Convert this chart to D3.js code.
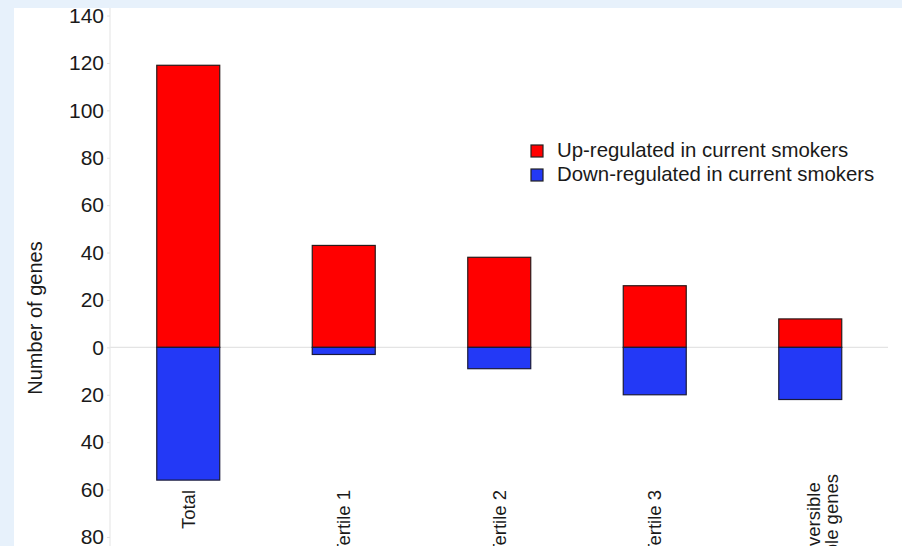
<!DOCTYPE html>
<html>
<head>
<meta charset="utf-8">
<script src="https://cdn.jsdelivr.net/npm/d3@7"></script>
<style>
  body { margin: 0; background: #fff; }
  text { font-family: "Liberation Sans", Arial, Helvetica, sans-serif; fill: #1a1a1a; }
</style>
</head>
<body>
<div id="chart"></div>
<script>
var width = 902, height = 546;

// values
var categories = ["Total", "Tertile 1", "Tertile 2", "Tertile 3", "Irreversible"];
var categoryLines = [["Total"], ["Tertile 1"], ["Tertile 2"], ["Tertile 3"], ["Irreversible", "Stable genes"]];
var upValues = [119, 43, 38, 26, 12];
var downValues = [56, 3, 9, 20, 22];
var tickValues = [-80, -60, -40, -20, 0, 20, 40, 60, 80, 100, 120, 140];
var legendLabels = ["Up-regulated in current smokers", "Down-regulated in current smokers"];
var colors = ["#ff0000", "#2339f6"];

var svg = d3.select("#chart").append("svg")
    .attr("width", width)
    .attr("height", height);

svg.append("rect").attr("width", width).attr("height", height).style("fill", "#fff");

var x = d3.scaleBand()
    .domain(categories)
    .range([110.5, 888])
    .paddingInner(0.595)
    .paddingOuter(0.2975);

var y = d3.scaleLinear()
    .domain([-80, 140])
    .range([537, 15.5]);

// zero line
svg.append("line")
    .attr("x1", 110).attr("x2", 888)
    .attr("y1", y(0)).attr("y2", y(0))
    .style("stroke", "#e4e4e4").style("stroke-width", 1.2);

// y axis
svg.append("line")
    .attr("x1", 110).attr("x2", 110)
    .attr("y1", 8).attr("y2", height)
    .style("stroke", "#e8e8e8").style("stroke-width", 1.2);

var yAxis = svg.append("g")
    .attr("transform", "translate(110,0)")
    .call(d3.axisLeft(y).tickValues(tickValues).tickSize(3).tickPadding(3)
      .tickFormat(function(d) { return Math.abs(d); }));
yAxis.select(".domain").remove();
yAxis.selectAll(".tick line").style("stroke", "#e0e0e0");
yAxis.selectAll(".tick text")
    .style("font-size", "21px")
    .style("font-family", "'Liberation Sans', Arial, sans-serif")
    .style("fill", "#1a1a1a");

svg.append("text")
    .attr("transform", "translate(35,318) rotate(-90)")
    .attr("text-anchor", "middle")
    .attr("dy", "0.35em")
    .style("font-size", "20px")
    .text("Number of genes");

// stacked bars
svg.selectAll(".up").data(upValues).enter().append("rect")
    .attr("class", "up")
    .attr("x", function(d, i) { return x(categories[i]); })
    .attr("width", x.bandwidth())
    .attr("y", function(d) { return y(d); })
    .attr("height", function(d) { return y(0) - y(d); })
    .style("fill", colors[0])
    .style("stroke", "#2a1a1a").style("stroke-width", 1.2);

svg.selectAll(".down").data(downValues).enter().append("rect")
    .attr("class", "down")
    .attr("x", function(d, i) { return x(categories[i]); })
    .attr("width", x.bandwidth())
    .attr("y", y(0))
    .attr("height", function(d) { return y(-d) - y(0); })
    .style("fill", colors[1])
    .style("stroke", "#1a1a3a").style("stroke-width", 1.2);

// category labels, rotated
categoryLines.forEach(function(lines, i) {
  var cx = x(categories[i]) + x.bandwidth() / 2;
  if (lines.length === 1) {
    svg.append("text")
      .attr("transform", "translate(" + cx + ",490) rotate(-90)")
      .attr("text-anchor", "end")
      .attr("dy", "0.35em")
      .style("font-size", "18.5px")
      .text(lines[0]);
  } else {
    lines.forEach(function(line, j) {
      svg.append("text")
        .attr("transform", "translate(" + (cx + 3 + j * 18) + ",528) rotate(-90)")
        .attr("text-anchor", "middle")
        .attr("dy", "0.35em")
        .style("font-size", "18.5px")
        .text(line);
    });
  }
});

// legend
legendLabels.forEach(function(label, i) {
  svg.append("rect")
    .attr("x", 531).attr("y", 145 + i * 24)
    .attr("width", 12).attr("height", 12)
    .style("fill", colors[i])
    .style("stroke", "#222").style("stroke-width", 1.2);
  svg.append("text")
    .attr("x", 557).attr("y", 157 + i * 24)
    .style("font-size", "20.4px")
    .text(label);
});

// light blue frame of the slide, drawn on top so it crops the chart
svg.append("rect").attr("width", width).attr("height", 8).style("fill", "#e7f1fb");
svg.append("rect").attr("width", 14).attr("height", height).style("fill", "#e7f1fb");
</script>
</body>
</html>
